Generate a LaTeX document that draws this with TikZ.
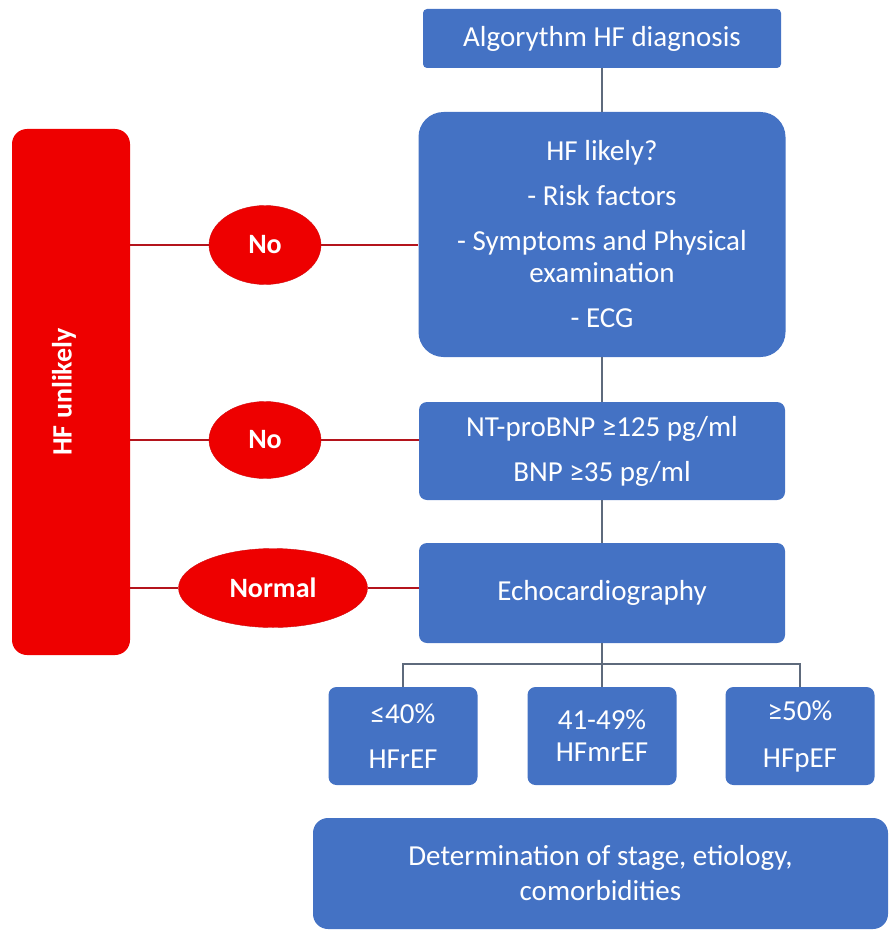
\documentclass[tikz,border=0pt]{standalone}
\usepackage{fontspec}
\setmainfont{Carlito}
\usepackage{tikz}
\usetikzlibrary{calc,positioning,shapes.geometric}

\definecolor{hfblue}{HTML}{4472C4}
\definecolor{hfred}{HTML}{EE0000}
\definecolor{hfdarkred}{HTML}{B4141C}
\definecolor{hfgray}{HTML}{5E6A7C}

\begin{document}
\begin{tikzpicture}[x=1pt,y=-1pt,node distance=1cm,
    bluebox/.style={fill=hfblue,text=white,align=center,inner sep=0pt,font=\fontsize{29}{32}\selectfont},
    redbox/.style={fill=hfred,text=white,inner sep=0pt,font=\fontsize{28}{32}\selectfont\bfseries},
    redoval/.style={ellipse,fill=hfred,draw=hfdarkred!50!hfred,text=white,inner sep=0pt,font=\fontsize{28}{32}\selectfont\bfseries},
    conn/.style={draw=hfgray,line width=1.3pt},
    redconn/.style={draw=hfdarkred,line width=1.2pt}]
  \useasboundingbox (0,0) rectangle (889,931);

  \node[bluebox,rounded corners=4pt,minimum width=358pt,minimum height=59pt] (algo) at (602,38.5) {Algorythm HF diagnosis};
  \node[bluebox,rounded corners=25pt,minimum width=367pt,minimum height=245pt,below of=algo,node distance=196pt] (hf_likely)
    {HF likely?\\[13pt] - Risk factors\\[13pt] - Symptoms and Physical\\ examination\\[13pt] - ECG};
  \node[bluebox,rounded corners=8pt,minimum width=366pt,minimum height=98pt,below of=hf_likely,node distance=216.5pt] (ntbnp)
    {NT-proBNP ≥125 pg/ml\\[13pt] BNP ≥35 pg/ml};
  \node[bluebox,rounded corners=8pt,minimum width=366pt,minimum height=100pt,below of=ntbnp,node distance=142pt] (echo) {Echocardiography};

  \node[bluebox,rounded corners=8pt,minimum width=149pt,minimum height=98pt,below of=echo,node distance=143pt] (ef_mr) {41-49\%\\ HFmrEF};
  \node[bluebox,rounded corners=8pt,minimum width=149pt,minimum height=98pt,left of=ef_mr,node distance=199pt] (ef_r) {≤40\%\\[13pt] HFrEF};
  \node[bluebox,rounded corners=8pt,minimum width=149pt,minimum height=98pt,right of=ef_mr,node distance=198pt] (ef_p) {≥50\%\\[15pt] HFpEF};

  \node[bluebox,rounded corners=15pt,minimum width=575pt,minimum height=111pt,below of=ef_mr,node distance=137.5pt,xshift=-1.5pt] (determ)
    {Determination of stage, etiology,\\[3pt] comorbidities};

  %%%%

  \node[redbox,rounded corners=15pt,minimum width=118pt,minimum height=526pt] (unlikely) at (71,392) {\rotatebox{90}{HF unlikely}\kern14pt};
  \node[redoval,minimum width=112pt,minimum height=79pt] (no_1) at (265,245) {No};
  \node[redoval,minimum width=112pt,minimum height=77pt] (no_2) at (265,440) {No};
  \node[redoval,minimum width=189pt,minimum height=79pt] (normal) at (273,588) {Normal};

  %%%%

  \draw[conn] (algo) -- (hf_likely);
  \draw[conn] (hf_likely) -- (ntbnp);
  \draw[conn] (ntbnp) -- (echo);

  \coordinate (fork) at (602,664);
  \draw[conn] (echo) -- (fork);
  \draw[conn] (ef_r.north) |- (fork) -| (ef_p.north);
  \draw[conn] (fork) -- (ef_mr.north);

  %%%%

  \draw[redconn] (unlikely.east |- no_1) -- (no_1);
  \draw[redconn] (no_1) -- (no_1 -| hf_likely.west);
  \draw[redconn] (unlikely.east |- no_2) -- (no_2);
  \draw[redconn] (no_2) -- (no_2 -| ntbnp.west);
  \draw[redconn] (unlikely.east |- normal) -- (normal);
  \draw[redconn] (normal) -- (normal -| echo.west);

\end{tikzpicture}
\end{document}
